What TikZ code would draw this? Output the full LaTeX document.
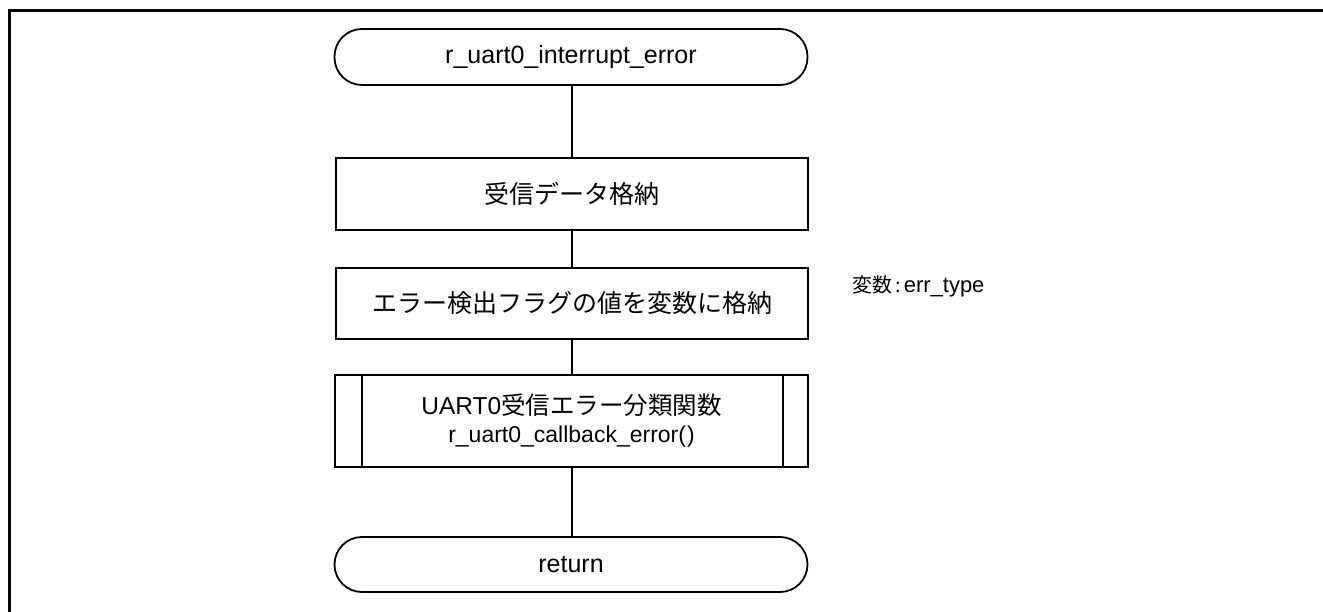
\documentclass[tikz,border=0pt]{standalone}
\usepackage{fontspec}
\setmainfont{Liberation Sans}
\newfontfamily\jp{Noto Sans CJK JP}
\begin{document}
\begin{tikzpicture}[x=1pt,y=-1pt,
  shape line/.style={draw=black,line width=1.8pt},
  terminal/.style={shape line,rectangle,rounded corners=27.5pt,minimum width=473pt,minimum height=56pt,inner sep=0pt,font=\fontsize{25}{29}\selectfont},
  process/.style={shape line,rectangle,minimum width=472pt,minimum height=72pt,inner sep=0pt,font=\fontsize{25}{29}\selectfont},
  subproc/.style={shape line,rectangle,minimum width=473pt,minimum height=92pt,inner sep=0pt,align=center,font=\fontsize{24.5}{30}\selectfont},
  flow/.style={draw=black,line width=1.8pt},
  frame/.style={draw=black,line width=3.2pt},
  note/.style={inner sep=0pt,anchor=west,font=\fontsize{20}{22}\selectfont}
]
\useasboundingbox (0,0) rectangle (1323,612);
% frame
\coordinate (fbl) at (9.6,614);
\coordinate (ftl) at (9.6,10.6);
\coordinate (ftr) at (1325,10.6);
\draw[frame] (fbl) -- (ftl) -- (ftr);

\node[terminal] (start) at (571,57) {r\_uart0\_interrupt\_error};
\node[process] (p1) at (572,194) {\jp 受信データ格納};
\node[process,minimum height=71pt] (p2) at (572,303.5) {\jp エラー検出フラグの値を変数に格納};
\node[subproc] (sub) at (571.5,421) {UART0{\jp 受信エラー分類関数}\\[-2pt]{\fontsize{23}{26}\selectfont r\_uart0\_callback\_error(\kern1pt)}};
\draw[flow] ([xshift=28pt]sub.north west) -- ([xshift=28pt]sub.south west);
\draw[flow] ([xshift=-26pt]sub.north east) -- ([xshift=-26pt]sub.south east);
\node[terminal,minimum height=55pt] (ret) at (571,564.5) {return};

\node[note] (var) at (852,286) {{\jp 変数}\kern3pt{\jp :}\kern3pt{\fontsize{22}{22}\selectfont err\_type}};

\draw[flow] (start.south -| 572,0) -- (p1.north);
\draw[flow] (p1) -- (p2);
\draw[flow] (p2.south) -- (p2.south |- sub.north);
\draw[flow] (p2.south |- sub.south) -- (p2.south |- ret.north);
\end{tikzpicture}
\end{document}
